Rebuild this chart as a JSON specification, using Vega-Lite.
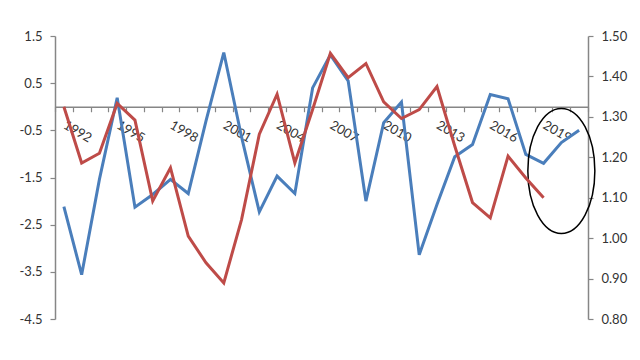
{
  "$schema": "https://vega.github.io/schema/vega-lite/v6.json",
  "width": 533,
  "height": 283,
  "autosize": {"type": "none"},
  "padding": {"left": 55, "right": 52, "top": 36, "bottom": 41},
  "background": "white",
  "config": {
    "view": {"stroke": null},
    "font": "Lato",
    "axis": {"labelFont": "Lato", "labelFontSize": 13, "labelColor": "#333333", "domainColor": "#868686", "tickColor": "#868686", "grid": false, "title": null, "domainWidth": 1.5, "tickWidth": 1.2},
    "legend": {"labelFont": "Lato", "labelFontSize": 13, "labelColor": "#333333"}
  },
  "data": {"values": [
    {"year": "1992", "g": -2.12, "e": 1.325},
    {"year": "1993", "g": -3.56, "e": 1.186},
    {"year": "1994", "g": -1.54, "e": 1.21},
    {"year": "1995", "g": 0.19, "e": 1.333},
    {"year": "1996", "g": -2.13, "e": 1.292},
    {"year": "1997", "g": -1.86, "e": 1.092},
    {"year": "1998", "g": -1.54, "e": 1.174},
    {"year": "1999", "g": -1.84, "e": 1.005},
    {"year": "2000", "g": -0.30, "e": 0.939},
    {"year": "2001", "g": 1.15, "e": 0.889},
    {"year": "2002", "g": -0.64, "e": 1.046},
    {"year": "2003", "g": -2.23, "e": 1.257},
    {"year": "2004", "g": -1.47, "e": 1.356},
    {"year": "2005", "g": -1.84, "e": 1.186},
    {"year": "2006", "g": 0.40, "e": 1.318},
    {"year": "2007", "g": 1.10, "e": 1.457},
    {"year": "2008", "g": 0.55, "e": 1.397},
    {"year": "2009", "g": -2.00, "e": 1.432},
    {"year": "2010", "g": -0.34, "e": 1.337},
    {"year": "2011", "g": 0.10, "e": 1.296},
    {"year": "2012", "g": -3.14, "e": 1.318},
    {"year": "2013", "g": -2.07, "e": 1.375},
    {"year": "2014", "g": -1.06, "e": 1.228},
    {"year": "2015", "g": -0.80, "e": 1.088},
    {"year": "2016", "g": 0.26, "e": 1.050},
    {"year": "2017", "g": 0.17, "e": 1.203},
    {"year": "2018", "g": -1.01, "e": 1.149},
    {"year": "2019", "g": -1.20, "e": 1.100},
    {"year": "2020", "g": -0.76, "e": null},
    {"year": "2021", "g": -0.50, "e": null}
  ]},
  "layer": [
    {
      "layer": [
        {
          "mark": {"type": "line", "strokeWidth": 3, "interpolate": "linear"},
          "encoding": {
            "x": {"field": "year", "type": "ordinal", "bandPosition": 0.5,
              "scale": {"type": "band", "paddingInner": 0, "paddingOuter": 0},
              "axis": {"orient": "bottom", "offset": -212.25, "labelAngle": 30, "labelAlign": "left", "labelBaseline": "middle", "labelPadding": 12, "tickSize": 5, "tickBand": "extent", "labelExpr": "(toNumber(datum.value) - 1992) % 3 == 0 ? datum.value : ''", "labelOverlap": false, "labelFontSize": 13}},
            "y": {"field": "g", "type": "quantitative",
              "scale": {"domain": [-4.5, 1.5], "nice": false, "zero": false},
              "axis": {"orient": "left", "values": [-4.5, -3.5, -2.5, -1.5, -0.5, 0.5, 1.5], "labelExpr": "replace(format(datum.value, '.1f'), '\u2212', '-')", "tickSize": 5, "labelPadding": 8}},
            "color": {"datum": "EZ-US growth (LHS)", "type": "nominal",
              "scale": {"domain": ["EZ-US growth (LHS)", "EURUSD (RHS)"], "range": ["#4A7EBB", "#BE4B48"]},
              "legend": {"orient": "bottom", "direction": "horizontal", "title": null, "symbolType": "stroke", "symbolSize": 1444, "symbolStrokeWidth": 3, "offset": 31, "columnPadding": 24, "labelOffset": 4}}
          }
        },
        {
          "data": {"values": [{"year": "2020", "v": -1.36}]},
          "mark": {"type": "point", "shape": "M -0.536 0 A 0.536 1 0 1 0 0.536 0 A 0.536 1 0 1 0 -0.536 0 Z", "size": 15625, "filled": false, "stroke": "black", "strokeWidth": 1.5, "opacity": 1},
          "encoding": {
            "x": {"field": "year", "type": "ordinal", "bandPosition": 0.5},
            "y": {"field": "v", "type": "quantitative"}
          }
        }
      ]
    },
    {
      "mark": {"type": "line", "strokeWidth": 3},
      "encoding": {
        "x": {"field": "year", "type": "ordinal", "bandPosition": 0.5},
        "y": {"field": "e", "type": "quantitative",
          "scale": {"domain": [0.8, 1.5], "nice": false, "zero": false},
          "axis": {"orient": "right", "values": [0.8, 0.9, 1.0, 1.1, 1.2, 1.3, 1.4, 1.5], "format": ".2f", "tickSize": 5, "labelPadding": 8}},
        "color": {"datum": "EURUSD (RHS)", "type": "nominal"}
      }
    }
  ],
  "resolve": {"scale": {"y": "independent"}}
}
